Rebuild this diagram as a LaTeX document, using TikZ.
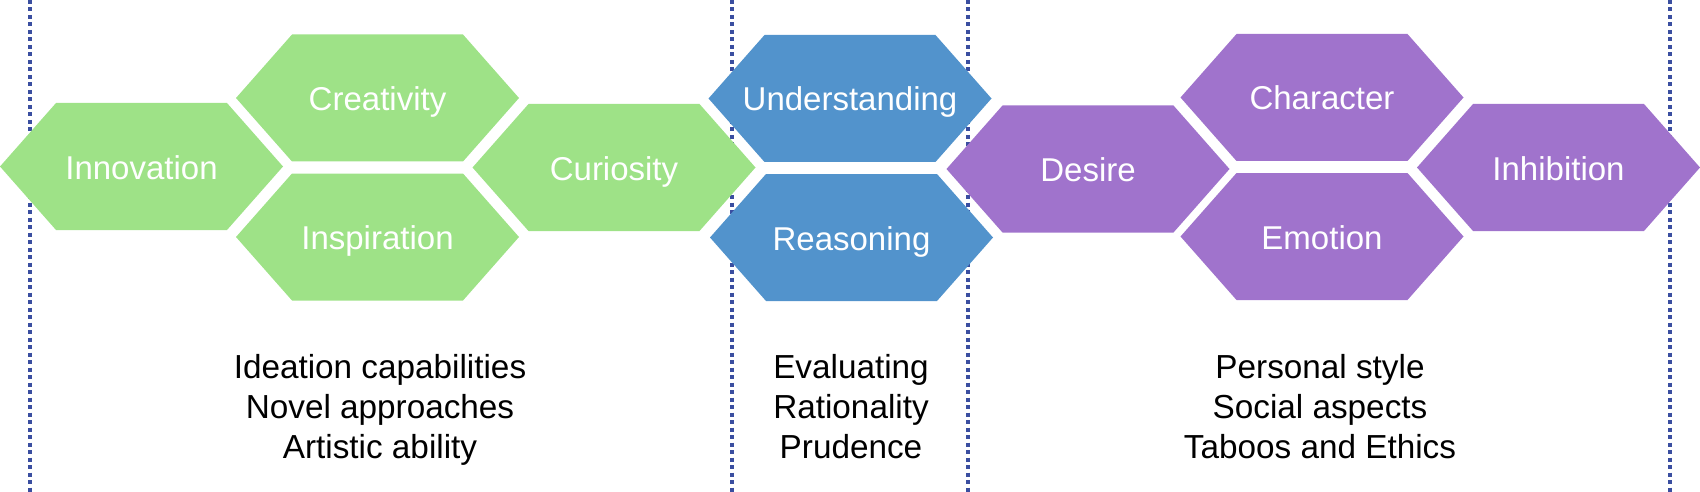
\documentclass[tikz,border=0pt]{standalone}
\usepackage{fontspec}
\setmainfont{Liberation Sans}
\definecolor{hgreen}{RGB}{158,226,135}
\definecolor{hblue}{RGB}{82,147,204}
\definecolor{hpurple}{RGB}{160,115,204}
\definecolor{dotline}{RGB}{58,78,160}
\newcommand\hexa[5]{%
  \fill[#4] (#2-141.5,#3) -- (#2-85.5,#3-63.5) -- (#2+85.5,#3-63.5) -- (#2+141.5,#3)
     -- (#2+85.5,#3+63.5) -- (#2-85.5,#3+63.5) -- cycle;
  \node[hexlabel] (#1) at (#2,#3+12.5) {#5};}
\begin{document}
\begin{tikzpicture}[x=1pt,y=-1pt,
  sep/.style={draw=dotline, line width=3.5pt, dash pattern=on 4pt off 3.5pt},
  hexlabel/.style={text=white, font=\fontsize{33}{40}\selectfont, anchor=base, inner sep=0pt},
  caption/.style={text=black, font=\fontsize{33.3}{40}\selectfont, anchor=base, inner sep=0pt}]
\useasboundingbox (0,0) rectangle (1700,492);
% separators
\coordinate (s1t) at (30,0);   \coordinate (s1b) at (30,492);
\coordinate (s2t) at (732,0);  \coordinate (s2b) at (732,492);
\coordinate (s3t) at (968,0);  \coordinate (s3b) at (968,492);
\coordinate (s4t) at (1670,0); \coordinate (s4b) at (1670,492);
\draw[sep] (s1t) -- (s1b);
\draw[sep] (s2t) -- (s2b);
\draw[sep] (s3t) -- (s3b);
\draw[sep] (s4t) -- (s4b);
% hexagons
\hexa{innovation}{141.5}{166.5}{hgreen}{Innovation}
\hexa{creativity}{377.5}{98}{hgreen}{Creativity}
\hexa{inspiration}{377.5}{237}{hgreen}{Inspiration}
\hexa{curiosity}{614}{167.5}{hgreen}{Curiosity}
\hexa{understanding}{850}{98.5}{hblue}{Understanding}
\hexa{reasoning}{851.5}{237.5}{hblue}{Reasoning}
\hexa{desire}{1088}{169}{hpurple}{Desire}
\hexa{character}{1322}{97.5}{hpurple}{Character}
\hexa{emotion}{1322}{236.5}{hpurple}{Emotion}
\hexa{inhibition}{1558.5}{167.5}{hpurple}{Inhibition}
% captions
\node[caption] (c1a) at (380,378) {Ideation capabilities};
\node[caption] (c1b) at (380,418) {Novel approaches};
\node[caption] (c1c) at (380,458) {Artistic ability};
\node[caption] (c2a) at (851,378) {Evaluating};
\node[caption] (c2b) at (851,418) {Rationality};
\node[caption] (c2c) at (851,458) {Prudence};
\node[caption] (c3a) at (1320,378) {Personal style};
\node[caption] (c3b) at (1320,418) {Social aspects};
\node[caption] (c3c) at (1320,458) {Taboos and Ethics};
\end{tikzpicture}
\end{document}
